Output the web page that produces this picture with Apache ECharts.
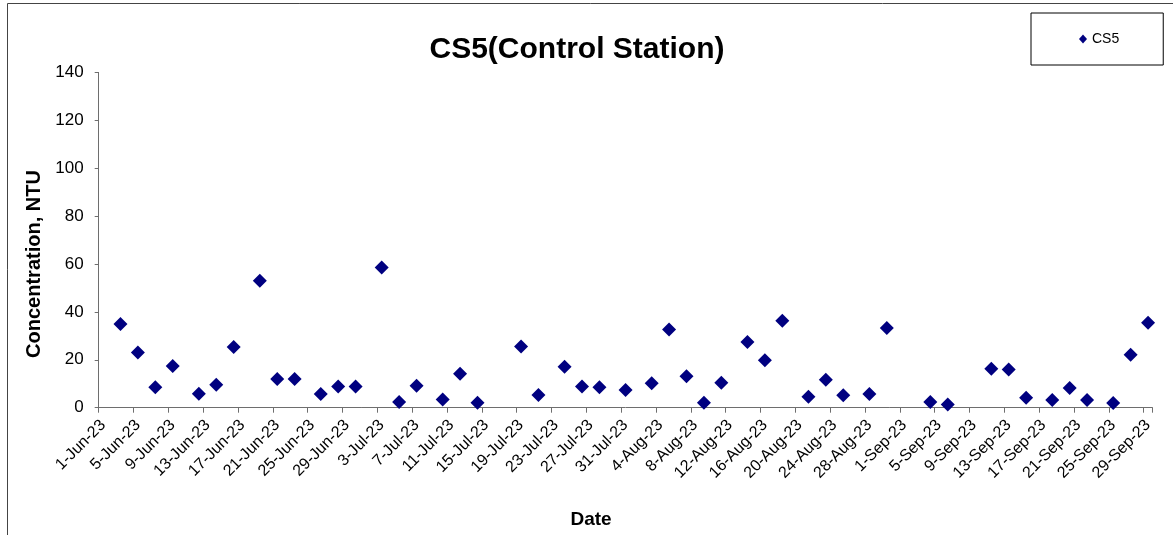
<!DOCTYPE html>
<html>
<head>
<meta charset="utf-8">
<script src="https://cdn.jsdelivr.net/npm/echarts@6/dist/echarts.min.js"></script>
<style>html,body{margin:0;padding:0;background:#fff;}#c{width:1173px;height:535px;}</style>
</head>
<body>
<div id="c"></div>
<script>
// Category dates 1-Jun-23 .. 29-Sep-23
const months = ['Jun', 'Jul', 'Aug', 'Sep'];
const monthDays = [30, 31, 31, 29];
const categories = [];
months.forEach((m, i) => { for (let d = 1; d <= monthDays[i]; d++) categories.push(d + '-' + m + '-23'); });

const sampleDates = ['3-Jun-23','5-Jun-23','7-Jun-23','9-Jun-23','12-Jun-23','14-Jun-23','16-Jun-23','19-Jun-23','21-Jun-23','23-Jun-23',
  '26-Jun-23','28-Jun-23','30-Jun-23','3-Jul-23','5-Jul-23','7-Jul-23','10-Jul-23','12-Jul-23','14-Jul-23','19-Jul-23',
  '21-Jul-23','24-Jul-23','26-Jul-23','28-Jul-23','31-Jul-23','3-Aug-23','5-Aug-23','7-Aug-23','9-Aug-23','11-Aug-23',
  '14-Aug-23','16-Aug-23','18-Aug-23','21-Aug-23','23-Aug-23','25-Aug-23','28-Aug-23','30-Aug-23','4-Sep-23','6-Sep-23',
  '11-Sep-23','13-Sep-23','15-Sep-23','18-Sep-23','20-Sep-23','22-Sep-23','25-Sep-23','27-Sep-23','29-Sep-23'];
const cs5Values = [34.9, 23.0, 8.5, 17.4, 5.8, 9.6, 25.3, 53.0, 12.0, 12.0,
  5.7, 8.9, 8.9, 58.5, 2.4, 9.2, 3.4, 14.2, 2.1, 25.6,
  5.3, 17.1, 8.8, 8.5, 7.4, 10.2, 32.7, 13.1, 2.1, 10.4,
  27.4, 19.8, 36.3, 4.6, 11.7, 5.2, 5.7, 33.3, 2.4, 1.3,
  16.3, 16.0, 4.2, 3.2, 8.2, 3.2, 2.0, 22.1, 35.5];

const seriesData = sampleDates.map((d, i) => [d, cs5Values[i]]);
const font = 'Liberation Sans, Arial, sans-serif';
const axisCol = '#6e6e6e';

const chart = echarts.init(document.getElementById('c'), null, {renderer: 'canvas'});
chart.setOption({
  animation: false,
  backgroundColor: '#fff',
  title: {
    text: 'CS5(Control Station)', left: 572, top: 30, textAlign: 'center',
    textStyle: {fontFamily: font, fontSize: 30, fontWeight: 'bold', color: '#000'}
  },
  legend: {
    left: 1031, top: 13, orient: 'horizontal',
    padding: [19, 44, 19, 48],
    borderColor: '#000', borderWidth: 1,
    itemWidth: 8, itemHeight: 9, itemGap: 4,
    icon: 'diamond',
    textStyle: {fontFamily: font, fontSize: 14, color: '#000', padding: [0,0,0,0]},
    data: ['CS5']
  },
  graphic: [{
    type: 'polyline', silent: true,
    shape: {points: [[7.5, 540], [7.5, 3.5], [1180, 3.5]]},
    style: {stroke: '#444', lineWidth: 1, fill: null}
  }, {
    type: 'text', silent: true, x: 34, y: 264, rotation: Math.PI / 2,
    style: {text: 'Concentration, NTU', fontFamily: font, fontSize: 20, fontWeight: 'bold', fill: '#000',
      align: 'center', verticalAlign: 'middle'}
  }, {
    type: 'text', silent: true, x: 591, y: 520,
    style: {text: 'Date', fontFamily: font, fontSize: 19, fontWeight: 'bold', fill: '#000',
      align: 'center', verticalAlign: 'middle'}
  }],
  grid: {left: 98.7, right: 20.6, top: 72.4, bottom: 127.3, containLabel: false},
  xAxis: {
    type: 'category', data: categories, boundaryGap: true,
    axisLine: {lineStyle: {color: axisCol, width: 1}},
    axisTick: {show: true, interval: 3, alignWithLabel: false, length: 5, lineStyle: {color: axisCol}},
    axisLabel: {interval: 3, rotate: 45, margin: 15, fontFamily: font, fontSize: 16, color: '#000'},
    splitLine: {show: false}
  },
  yAxis: {
    type: 'value', min: 0, max: 140, interval: 20,
    axisLine: {show: true, lineStyle: {color: axisCol, width: 1}},
    axisTick: {show: true, length: 4, lineStyle: {color: axisCol}},
    axisLabel: {margin: 15, fontFamily: font, fontSize: 17, color: '#000'},
    splitLine: {show: false}
  },
  series: [{
    name: 'CS5', type: 'scatter', data: seriesData,
    symbol: 'diamond', symbolSize: [14, 14],
    itemStyle: {color: '#000080', opacity: 1}
  }]
});
</script>
</body>
</html>
